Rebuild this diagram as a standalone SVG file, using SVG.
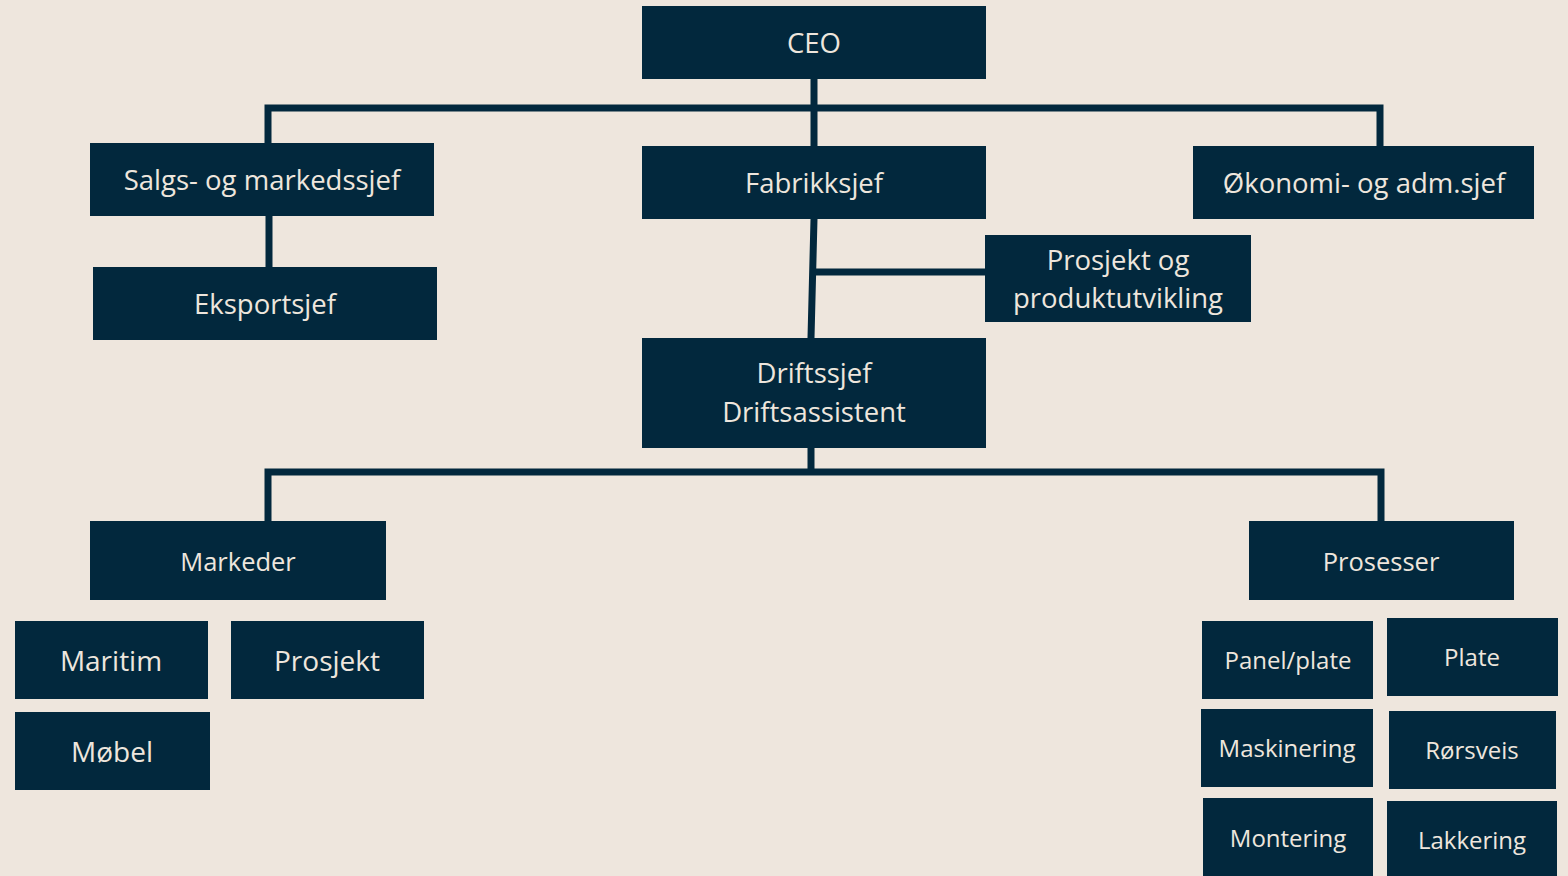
<svg xmlns="http://www.w3.org/2000/svg" width="1568" height="876" viewBox="0 0 1568 876">
<style>
.n{fill:#02283D}
.t{fill:#EEE6DD;font-family:"Open Sans","Noto Sans",sans-serif;text-anchor:middle}
.m{font-size:27.5px}
.h{font-size:25.5px}
.l{font-size:28px}
.s{font-size:24px}
.c{fill:none;stroke:#02283D;stroke-width:7}
</style>
<rect width="1568" height="876" fill="#EEE6DD"/>
<g id="connectors">
<path class="c" d="M814 79V146M268 143V108H1380V146"/>
<path class="c" d="M269 216V267"/>
<path class="c" d="M814 219L811 338M813 272H985"/>
<path class="c" d="M811 448V472M268 521V472H1381V521"/>
</g>
<g id="ceo"><rect class="n" x="642" y="6" width="344" height="73"/><text class="t m" x="814" y="53">CEO</text></g>
<g id="salgs"><rect class="n" x="90" y="143" width="344" height="73"/><text class="t m" x="262" y="190">Salgs- og markedssjef</text></g>
<g id="fabrikksjef"><rect class="n" x="642" y="146" width="344" height="73"/><text class="t m" x="814" y="193">Fabrikksjef</text></g>
<g id="okonomi"><rect class="n" x="1193" y="146" width="341" height="73"/><text class="t m" x="1364" y="193">Økonomi- og adm.sjef</text></g>
<g id="eksportsjef"><rect class="n" x="93" y="267" width="344" height="73"/><text class="t m" x="265" y="314">Eksportsjef</text></g>
<g id="prosjektutvikling"><rect class="n" x="985" y="235" width="266" height="87"/><text class="t m" x="1118" y="270">Prosjekt og</text><text class="t m" x="1118" y="308">produktutvikling</text></g>
<g id="driftssjef"><rect class="n" x="642" y="338" width="344" height="110"/><text class="t m" x="814" y="383">Driftssjef</text><text class="t m" x="814" y="422">Driftsassistent</text></g>
<g id="markeder"><rect class="n" x="90" y="521" width="296" height="79"/><text class="t h" x="238" y="571">Markeder</text></g>
<g id="prosesser"><rect class="n" x="1249" y="521" width="265" height="79"/><text class="t h" x="1381" y="571">Prosesser</text></g>
<g id="maritim"><rect class="n" x="15" y="621" width="193" height="78"/><text class="t l" x="111" y="671">Maritim</text></g>
<g id="prosjekt"><rect class="n" x="231" y="621" width="193" height="78"/><text class="t l" x="327" y="671">Prosjekt</text></g>
<g id="mobel"><rect class="n" x="15" y="712" width="195" height="78"/><text class="t l" x="112" y="762">Møbel</text></g>
<g id="panelplate"><rect class="n" x="1202" y="621" width="171" height="78"/><text class="t s" x="1288" y="669">Panel/plate</text></g>
<g id="plate"><rect class="n" x="1387" y="618" width="171" height="78"/><text class="t s" x="1472" y="666">Plate</text></g>
<g id="maskinering"><rect class="n" x="1201" y="709" width="172" height="78"/><text class="t s" x="1287" y="757">Maskinering</text></g>
<g id="rorsveis"><rect class="n" x="1389" y="711" width="167" height="78"/><text class="t s" x="1472" y="759">Rørsveis</text></g>
<g id="montering"><rect class="n" x="1203" y="798" width="170" height="80"/><text class="t s" x="1288" y="847">Montering</text></g>
<g id="lakkering"><rect class="n" x="1387" y="801" width="170" height="77"/><text class="t s" x="1472" y="849">Lakkering</text></g>
</svg>
